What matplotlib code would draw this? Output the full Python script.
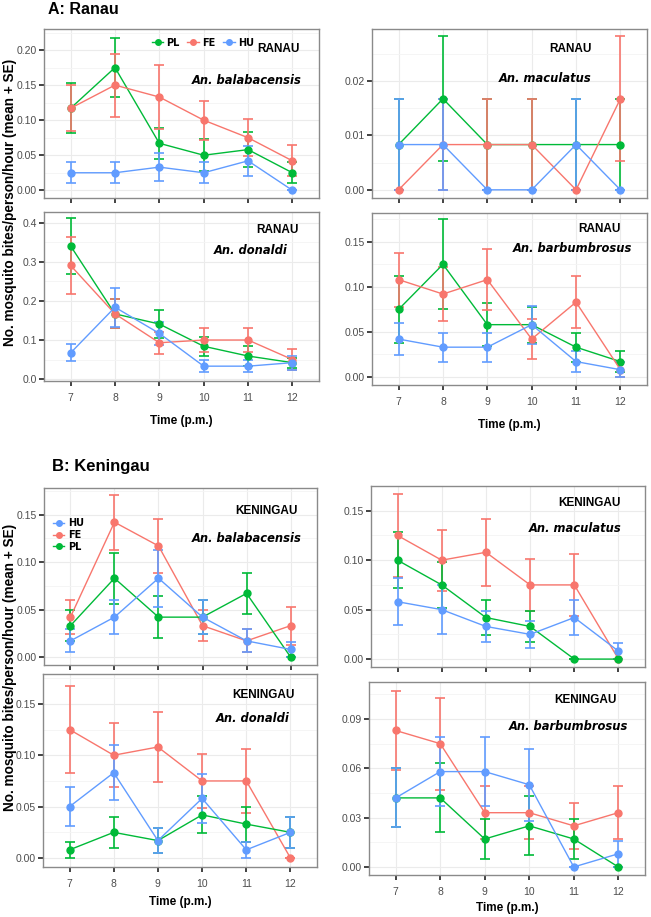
import numpy as np
import matplotlib.pyplot as plt
from matplotlib.ticker import FixedLocator

plt.rcParams['font.family'] = ['Liberation Sans', 'DejaVu Sans']

W, H = 651, 917

hours = [7, 8, 9, 10, 11, 12]
hour_labels = ['7', '8', '9', '10', '11', '12']

PL_COL = '#00BA38'
FE_COL = '#F8766D'
HU_COL = '#619CFF'

# ---- A: Ranau ----
ra_bal_pl = [0.117, 0.175, 0.067, 0.050, 0.058, 0.025]
ra_bal_pl_se = [0.036, 0.042, 0.022, 0.023, 0.025, 0.015]
ra_bal_fe = [0.117, 0.150, 0.133, 0.100, 0.075, 0.042]
ra_bal_fe_se = [0.033, 0.045, 0.045, 0.028, 0.026, 0.022]
ra_bal_hu = [0.025, 0.025, 0.033, 0.025, 0.042, 0.0]
ra_bal_hu_se = [0.015, 0.015, 0.020, 0.015, 0.021, 0.0]

ra_mac_pl = [0.0083, 0.0167, 0.0083, 0.0083, 0.0083, 0.0083]
ra_mac_pl_se = [0.0083, 0.0115, 0.0083, 0.0083, 0.0083, 0.0083]
ra_mac_fe = [0.0, 0.0083, 0.0083, 0.0083, 0.0, 0.0167]
ra_mac_fe_se = [0.0, 0.0083, 0.0083, 0.0083, 0.0, 0.0115]
ra_mac_hu = [0.0083, 0.0083, 0.0, 0.0, 0.0083, 0.0]
ra_mac_hu_se = [0.0083, 0.0083, 0.0, 0.0, 0.0083, 0.0]

ra_don_pl = [0.341, 0.167, 0.141, 0.084, 0.059, 0.042]
ra_don_pl_se = [0.071, 0.037, 0.035, 0.024, 0.025, 0.013]
ra_don_fe = [0.291, 0.167, 0.093, 0.100, 0.100, 0.050]
ra_don_fe_se = [0.074, 0.037, 0.028, 0.030, 0.031, 0.028]
ra_don_hu = [0.067, 0.184, 0.117, 0.033, 0.033, 0.042]
ra_don_hu_se = [0.022, 0.050, 0.030, 0.016, 0.016, 0.018]

ra_bar_pl = [0.075, 0.125, 0.058, 0.058, 0.033, 0.017]
ra_bar_pl_se = [0.037, 0.050, 0.024, 0.020, 0.016, 0.012]
ra_bar_fe = [0.108, 0.092, 0.108, 0.042, 0.083, 0.008]
ra_bar_fe_se = [0.030, 0.030, 0.034, 0.022, 0.029, 0.008]
ra_bar_hu = [0.042, 0.033, 0.033, 0.058, 0.017, 0.008]
ra_bar_hu_se = [0.018, 0.016, 0.016, 0.021, 0.012, 0.008]

# ---- B: Keningau ----
ke_bal_hu = [0.017, 0.042, 0.083, 0.042, 0.017, 0.008]
ke_bal_hu_se = [0.012, 0.018, 0.030, 0.018, 0.012, 0.008]
ke_bal_fe = [0.042, 0.142, 0.117, 0.033, 0.017, 0.033]
ke_bal_fe_se = [0.018, 0.029, 0.028, 0.016, 0.012, 0.020]
ke_bal_pl = [0.033, 0.083, 0.042, 0.042, 0.067, 0.0]
ke_bal_pl_se = [0.016, 0.027, 0.022, 0.018, 0.022, 0.0]

ke_mac_fe = [0.125, 0.100, 0.108, 0.075, 0.075, 0.0]
ke_mac_fe_se = [0.042, 0.031, 0.034, 0.026, 0.031, 0.0]
ke_mac_pl = [0.100, 0.075, 0.042, 0.033, 0.0, 0.0]
ke_mac_pl_se = [0.028, 0.023, 0.018, 0.016, 0.0, 0.0]
ke_mac_hu = [0.058, 0.050, 0.033, 0.025, 0.042, 0.008]
ke_mac_hu_se = [0.024, 0.025, 0.016, 0.014, 0.018, 0.008]

ke_don_fe = [0.125, 0.100, 0.108, 0.075, 0.075, 0.0]
ke_don_fe_se = [0.042, 0.031, 0.034, 0.026, 0.031, 0.0]
ke_don_hu = [0.050, 0.083, 0.017, 0.058, 0.008, 0.025]
ke_don_hu_se = [0.019, 0.027, 0.012, 0.024, 0.008, 0.015]
ke_don_pl = [0.008, 0.025, 0.017, 0.042, 0.033, 0.025]
ke_don_pl_se = [0.008, 0.015, 0.012, 0.018, 0.017, 0.015]

ke_bar_fe = [0.083, 0.075, 0.033, 0.033, 0.025, 0.033]
ke_bar_fe_se = [0.024, 0.028, 0.016, 0.016, 0.014, 0.016]
ke_bar_hu = [0.042, 0.058, 0.058, 0.050, 0.0, 0.008]
ke_bar_hu_se = [0.018, 0.021, 0.021, 0.022, 0.0, 0.008]
ke_bar_pl = [0.042, 0.042, 0.017, 0.025, 0.017, 0.0]
ke_bar_pl_se = [0.018, 0.021, 0.012, 0.018, 0.012, 0.0]


fig = plt.figure(figsize=(W / 100, H / 100), dpi=100)


def fx(x):
    return x / W


def fy(y):
    return 1 - y / H


def panel(box, series, ylim, yticks, ylabels, site, site_xy, species, sp_xy,
          xlabels=False, xlab_pad=9):
    l, t, r, b = box
    ax = fig.add_axes([fx(l), fy(b), (r - l) / W, (b - t) / H])
    for name, mean, se, col in series:
        ax.errorbar(hours, mean, yerr=se, fmt='none', ecolor=col,
                    elinewidth=1.2, capsize=3.5, capthick=1.2, zorder=3)
        ax.plot(hours, mean, color=col, lw=1.0, marker='o', ms=5,
                label=name, zorder=4)
    ax.set_xlim(6.4, 12.6)
    ax.set_ylim(ylim)
    ax.set_xticks(hours)
    ax.set_xticklabels(hour_labels)
    ax.set_yticks(yticks)
    ax.set_yticklabels(ylabels)
    minor = [(yticks[i] + yticks[i + 1]) / 2 for i in range(len(yticks) - 1)]
    minor.append(yticks[-1] + (yticks[1] - yticks[0]) / 2)
    ax.yaxis.set_minor_locator(FixedLocator(minor))
    ax.grid(which='major', color='#ebebeb', lw=0.8)
    ax.grid(which='minor', axis='y', color='#f4f4f4', lw=0.6)
    ax.set_axisbelow(True)
    ax.tick_params(which='major', direction='out', length=3.5, width=1.2,
                   color='#222222', labelcolor='#4d4d4d', labelsize=7.5, pad=1.5)
    ax.tick_params(which='minor', length=0)
    ax.tick_params(axis='x', pad=5)
    if not xlabels:
        ax.tick_params(labelbottom=False)
    for s in ax.spines.values():
        s.set_color('#8a8a8a')
        s.set_linewidth(1.0)
    fig.text(fx(site_xy[0]), fy(site_xy[1]), site, ha='right', va='center',
             fontsize=8.5, fontweight='bold')
    fig.text(fx(sp_xy[0]), fy(sp_xy[1]), species, ha='right', va='center',
             fontsize=8.3, fontweight='bold', style='italic',
             family=['DejaVu Sans'])
    if xlabels:
        ax.set_xlabel('Time (p.m.)', fontsize=8.5, fontweight='bold',
                      labelpad=xlab_pad)
    return ax


t2 = [0.0, 0.05, 0.10, 0.15]
t2l = ['0.00', '0.05', '0.10', '0.15']

# A: Ranau
ax = panel((44, 29, 319, 198),
           [('PL', ra_bal_pl, ra_bal_pl_se, PL_COL),
            ('FE', ra_bal_fe, ra_bal_fe_se, FE_COL),
            ('HU', ra_bal_hu, ra_bal_hu_se, HU_COL)],
           (-0.011, 0.23), [0.0, 0.05, 0.10, 0.15, 0.20],
           ['0.00', '0.05', '0.10', '0.15', '0.20'],
           'RANAU', (300, 49), 'An. balabacensis', (302, 81))
ax.legend(loc='upper left', bbox_to_anchor=(0.36, 1.0), ncol=3, frameon=False,
          handlelength=1.2, handletextpad=0.3, columnspacing=0.8,
          prop={'size': 7, 'weight': 'bold', 'family': 'DejaVu Sans'},
          markerscale=0.8)

panel((372, 29, 647, 198),
      [('PL', ra_mac_pl, ra_mac_pl_se, PL_COL),
       ('FE', ra_mac_fe, ra_mac_fe_se, FE_COL),
       ('HU', ra_mac_hu, ra_mac_hu_se, HU_COL)],
      (-0.0015, 0.0295), [0.0, 0.01, 0.02], ['0.00', '0.01', '0.02'],
      'RANAU', (592, 49), 'An. maculatus', (591, 78))

panel((44, 212, 319, 381),
      [('PL', ra_don_pl, ra_don_pl_se, PL_COL),
       ('FE', ra_don_fe, ra_don_fe_se, FE_COL),
       ('HU', ra_don_hu, ra_don_hu_se, HU_COL)],
      (-0.005, 0.428), [0.0, 0.1, 0.2, 0.3, 0.4],
      ['0.0', '0.1', '0.2', '0.3', '0.4'],
      'RANAU', (299, 230), 'An. donaldi', (288, 251), xlabels=True)

panel((372, 213, 647, 385),
      [('PL', ra_bar_pl, ra_bar_pl_se, PL_COL),
       ('FE', ra_bar_fe, ra_bar_fe_se, FE_COL),
       ('HU', ra_bar_hu, ra_bar_hu_se, HU_COL)],
      (-0.009, 0.182), t2, t2l,
      'RANAU', (621, 229), 'An. barbumbrosus', (632, 248), xlabels=True)

# B: Keningau
ax = panel((44, 488, 317, 665),
           [('FE', ke_bal_fe, ke_bal_fe_se, FE_COL),
            ('PL', ke_bal_pl, ke_bal_pl_se, PL_COL),
            ('HU', ke_bal_hu, ke_bal_hu_se, HU_COL)],
           (-0.0084, 0.178), t2, t2l,
           'KENINGAU', (298, 511), 'An. balabacensis', (302, 539))
h, lab = ax.get_legend_handles_labels()
order = [2, 0, 1]
ax.legend([h[i] for i in order], [lab[i] for i in order], loc='upper left',
          bbox_to_anchor=(0.0, 0.88), frameon=False, handlelength=1.2,
          handletextpad=0.4, labelspacing=0.2,
          prop={'size': 7, 'weight': 'bold', 'family': 'DejaVu Sans'},
          markerscale=0.8)

panel((371, 486, 645, 667),
      [('FE', ke_mac_fe, ke_mac_fe_se, FE_COL),
       ('PL', ke_mac_pl, ke_mac_pl_se, PL_COL),
       ('HU', ke_mac_hu, ke_mac_hu_se, HU_COL)],
      (-0.008, 0.175), t2, t2l,
      'KENINGAU', (621, 503), 'An. maculatus', (622, 528))

panel((43, 674, 317, 867),
      [('FE', ke_don_fe, ke_don_fe_se, FE_COL),
       ('PL', ke_don_pl, ke_don_pl_se, PL_COL),
       ('HU', ke_don_hu, ke_don_hu_se, HU_COL)],
      (-0.0087, 0.179), t2, t2l,
      'KENINGAU', (295, 695), 'An. donaldi', (290, 719),
      xlabels=True, xlab_pad=5)

panel((369, 682, 645, 875),
      [('FE', ke_bar_fe, ke_bar_fe_se, FE_COL),
       ('PL', ke_bar_pl, ke_bar_pl_se, PL_COL),
       ('HU', ke_bar_hu, ke_bar_hu_se, HU_COL)],
      (-0.0049, 0.1125), [0.0, 0.03, 0.06, 0.09], ['0.00', '0.03', '0.06', '0.09'],
      'KENINGAU', (617, 700), 'An. barbumbrosus', (628, 726),
      xlabels=True, xlab_pad=4)

# block titles and shared y labels
fig.text(fx(48), fy(10), 'A: Ranau', ha='left', va='center', fontsize=11.5,
         fontweight='bold')
fig.text(fx(52), fy(466), 'B: Keningau', ha='left', va='center', fontsize=12,
         fontweight='bold')
ylab = 'No. mosquito bites/person/hour (mean + SE)'
fig.text(fx(10), fy(202), ylab, rotation=90, ha='center', va='center',
         fontsize=9.8, fontweight='bold')
fig.text(fx(10), fy(667), ylab, rotation=90, ha='center', va='center',
         fontsize=9.8, fontweight='bold')

plt.savefig('out.png', dpi=100)
